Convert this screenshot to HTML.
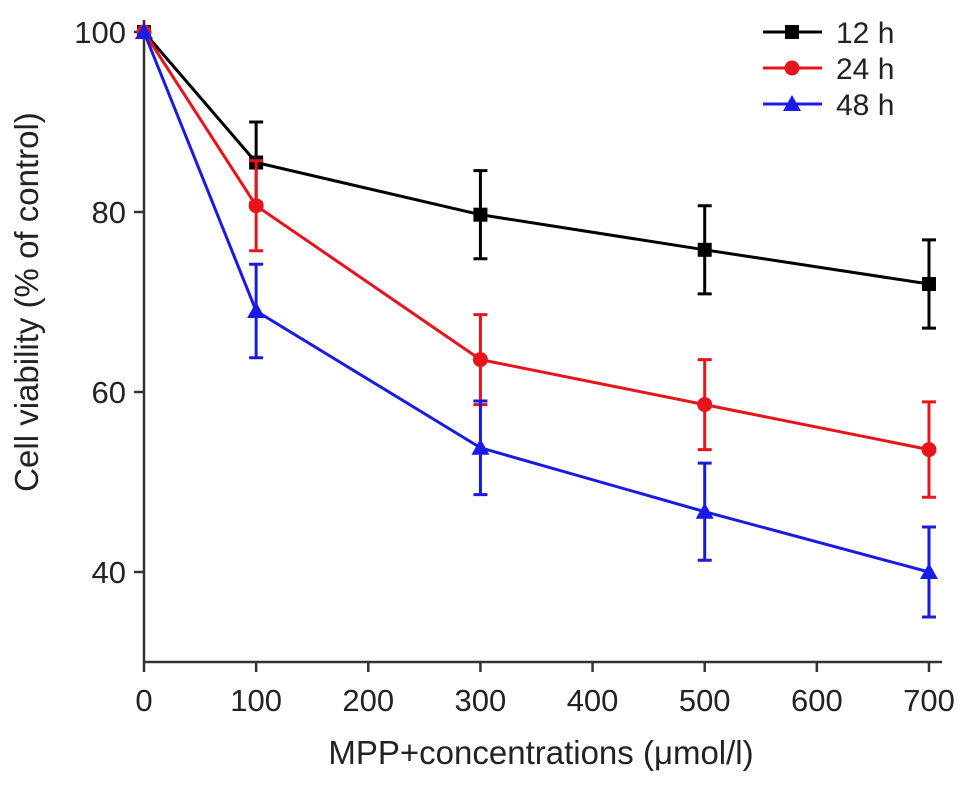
<!DOCTYPE html>
<html><head><meta charset="utf-8"><style>
body{margin:0;background:#fff}
svg text{font-family:"Liberation Sans",sans-serif;fill:#222}
</style></head><body>
<svg id="c" width="969" height="786"></svg>
<script>
const xs=[0,100,300,500,700];
const s12=[100,85.5,79.7,75.8,72];
const e12=[0,4.5,4.9,4.9,4.9];
const s24=[100,80.7,63.6,58.6,53.6];
const e24=[0,5,5,5,5.3];
const s48=[100,69,53.8,46.7,40];
const e48=[0,5.2,5.2,5.4,5];
const xTicks=[0,100,200,300,400,500,600,700];
const yTicks=[40,60,80,100];
const X=v=>144+v*1.1214;
const Y=v=>572-(v-40)*9;
const svg=document.getElementById('c');
const NS='http://www.w3.org/2000/svg';
function mk(t,a,p){const e=document.createElementNS(NS,t);for(const k in a)e.setAttribute(k,a[k]);(p||svg).appendChild(e);return e;}
let e;
e=mk('line',{x1:144,y1:20,x2:144,y2:662,stroke:'#333','stroke-width':2.5});


e=mk('line',{x1:143,y1:662,x2:942,y2:662,stroke:'#333','stroke-width':2.5});


xTicks.forEach(v=>{
 e=mk('line',{x1:X(v),y1:662,x2:X(v),y2:672,stroke:'#333','stroke-width':2.5});
 
 
 e=mk('text',{x:X(v),y:711,'font-size':31,'text-anchor':'middle'});e.textContent=v;
 
 
});
yTicks.forEach(v=>{
 e=mk('line',{x1:134,y1:Y(v),x2:144,y2:Y(v),stroke:'#333','stroke-width':2.5});
 
 
 e=mk('text',{x:126,y:Y(v)+11,'font-size':31,'text-anchor':'end'});e.textContent=v;
 
 
});
e=mk('text',{x:541,y:764,'font-size':33,'text-anchor':'middle'});e.textContent='MPP+concentrations (\u03bcmol/l)';


e=mk('text',{x:0,y:0,'font-size':33,'text-anchor':'middle',transform:'translate(38,302) rotate(-90)'});e.textContent='Cell viability (% of control)';


function marker(g,type,x,y,c){
 if(type==='sq')return mk('rect',{x:x-7,y:y-7,width:14,height:14,fill:c},g);
 if(type==='ci')return mk('circle',{cx:x,cy:y,r:7.5,fill:c},g);
 return mk('polygon',{points:`${x},${y-9} ${x+9},${y+7} ${x-9},${y+7}`,fill:c},g);
}
const series=[[s12,e12,'#000','sq','12 h'],[s24,e24,'#e8141b','ci','24 h'],[s48,e48,'#1a1ae6','tr','48 h']];
series.forEach((s,i)=>{
 const [vals,errs,c,type,name]=s;
 const g=mk('g',{});
 
 
 e=mk('polyline',{points:xs.map((x,j)=>X(x)+','+Y(vals[j])).join(' '),fill:'none',stroke:c,'stroke-width':3},g);
 
 
 xs.forEach((x,j)=>{
  if(errs[j]>0){
   const px=X(x),t=Y(vals[j]+errs[j]),b=Y(vals[j]-errs[j]);
   e=mk('path',{d:`M${px},${t}V${b}M${px-7},${t}H${px+7}M${px-7},${b}H${px+7}`,stroke:c,'stroke-width':3,fill:'none'},g);
   
   
  }
  e=marker(g,type,X(x),Y(vals[j]),c);
  
  
 });
 const ly=32+i*36;
 const lg=mk('g',{});
 
 
 mk('line',{x1:763,y1:ly,x2:822,y2:ly,stroke:c,'stroke-width':3},lg);
 marker(lg,type,792,ly,c);
 e=mk('text',{x:836,y:ly+11,'font-size':30},lg);e.textContent=name;
});
</script>
</body></html>
